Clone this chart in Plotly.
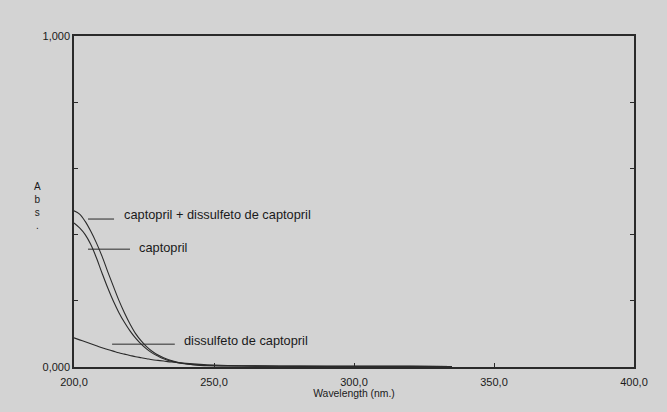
import plotly.graph_objects as go

# Wavelength grid (nm)
wavelength = [200, 202, 204, 206, 208, 210, 212, 214, 216, 218, 220, 222, 224, 226, 228,
              230, 232, 235, 240, 245, 250, 260, 280, 300, 320, 335]

# Absorbance series
abs_mix = [0.472, 0.462, 0.440, 0.410, 0.375, 0.335, 0.289, 0.245, 0.202, 0.164, 0.130,
           0.101, 0.079, 0.061, 0.047, 0.036, 0.028, 0.019, 0.010, 0.006, 0.004, 0.003,
           0.002, 0.002, 0.002, 0.001]
abs_captopril = [0.435, 0.420, 0.400, 0.370, 0.330, 0.284, 0.240, 0.200, 0.165, 0.135,
                 0.109, 0.087, 0.069, 0.054, 0.042, 0.033, 0.025, 0.017, 0.009, 0.005,
                 0.004, 0.003, 0.002, 0.002, 0.002, 0.001]
abs_dissulfeto = [0.088, 0.082, 0.076, 0.070, 0.064, 0.058, 0.053, 0.048, 0.043, 0.039,
                  0.035, 0.031, 0.028, 0.025, 0.022, 0.020, 0.018, 0.015, 0.011, 0.008,
                  0.006, 0.004, 0.003, 0.002, 0.002, 0.001]

series_names = ["captopril + dissulfeto de captopril", "captopril", "dissulfeto de captopril"]

x_tick_vals = [200, 250, 300, 350, 400]
x_tick_text = ["200,0", "250,0", "300,0", "350,0", "400,0"]
y_tick_vals = [0, 0.2, 0.4, 0.6, 0.8, 1.0]
y_tick_text = ["0,000", "", "", "", "", "1,000"]

BG = "#d3d3d3"
AX = "#2a2a2a"
LINE = "#2a2a2a"
FONT = "Liberation Sans, Arial, sans-serif"

fig = go.Figure()
for name, vals in zip(series_names, [abs_mix, abs_captopril, abs_dissulfeto]):
    fig.add_trace(go.Scatter(x=wavelength, y=vals, mode="lines", name=name,
                             line=dict(color=LINE, width=1.1, shape="spline"),
                             showlegend=False, hoverinfo="skip"))

# label leader lines and labels
labels = [
    (series_names[0], 205.0, 214.3, 0.447, 217.0, 0.462),
    (series_names[1], 205.0, 220.0, 0.356, 222.5, 0.362),
    (series_names[2], 213.6, 236.0, 0.069, 238.6, 0.080),
]
for text, x0, x1, yl, xt, yt in labels:
    fig.add_shape(type="line", x0=x0, x1=x1, y0=yl, y1=yl, xref="x", yref="y",
                  line=dict(color=LINE, width=1))
    fig.add_annotation(x=xt, y=yt, text=text, showarrow=False, xanchor="left",
                       yanchor="middle", font=dict(family=FONT, size=12.8, color="#1a1a1a"))

W, H = 667, 412
ML, MR, MT, MB = 74, 33, 36, 45
# stacked y-axis title
fig.add_annotation(x=(32 - ML) / (W - ML - MR), y=(H - MB - 206) / (H - MT - MB),
                   xref="paper", yref="paper", text="A<br>b<br>s<br>.",
                   showarrow=False, font=dict(family=FONT, size=10, color="#1a1a1a"))

fig.update_layout(
    width=W, height=H,
    margin=dict(l=ML, r=MR, t=MT, b=MB),
    paper_bgcolor=BG, plot_bgcolor=BG,
    font=dict(family=FONT, size=11, color="#1a1a1a"),
    xaxis=dict(range=[200, 400], tickvals=x_tick_vals, ticktext=x_tick_text,
               ticks="inside", ticklen=4, tickcolor=AX, showgrid=False, zeroline=False,
               showline=True, linecolor=AX, linewidth=1.5, mirror=True,
               title=dict(text="Wavelength (nm.)", font=dict(size=10.4), standoff=0),
               tickfont=dict(size=11), ticklabelstandoff=4),
    yaxis=dict(range=[0, 1], tickvals=y_tick_vals, ticktext=y_tick_text,
               ticks="inside", ticklen=4, tickcolor=AX, showgrid=False, zeroline=False,
               showline=True, linecolor=AX, linewidth=1.5, mirror="ticks",
               tickfont=dict(size=11), ticklabelstandoff=0),
)
fig.write_html("out.html", config={"displayModeBar": False},
               post_script="document.body.style.margin='0';document.body.style.background='%s';" % BG)
